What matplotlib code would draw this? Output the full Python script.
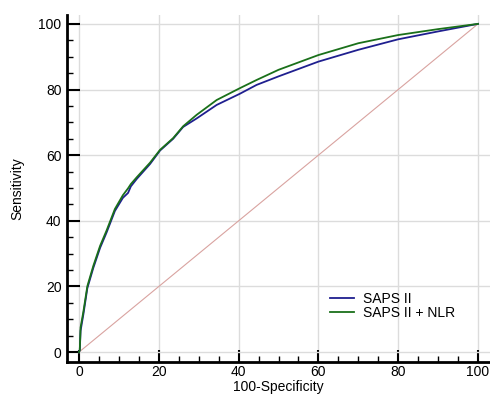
import matplotlib
matplotlib.use("Agg")
import matplotlib.pyplot as plt
from matplotlib.ticker import MultipleLocator

plt.rcParams['font.family'] = ['Liberation Sans', 'DejaVu Sans']

# 100-Specificity (x) and Sensitivity (y) for each ROC curve
saps_x = [0, 0.2, 0.4, 1.1, 2.1, 3.6, 5.3, 6.9, 9.0, 11.0, 12.3, 13.0, 14.5, 17.8,
          20.3, 23.6, 26.1, 29.5, 34.5, 40.3, 44.5, 50, 60, 70, 80, 90, 100]
saps_y = [0, 0.6, 6.5, 11.5, 19.5, 25.7, 31.8, 36.4, 43.0, 47.0, 48.5, 50.5, 52.8, 57.3,
          61.4, 65.0, 68.6, 71.2, 75.3, 78.7, 81.4, 84.0, 88.5, 92.1, 95.3, 97.7, 100]

nlr_x = [0, 0.2, 0.4, 1.1, 2.1, 3.6, 5.3, 6.9, 9.0, 11.0, 12.3, 13.0, 14.5, 17.8,
         20.3, 23.6, 26.1, 29.5, 34.5, 40.3, 44.5, 50, 60, 70, 80, 90, 100]
nlr_y = [0, 0.6, 7.5, 12.3, 20.1, 26.3, 32.4, 37.0, 43.6, 47.8, 49.9, 51.2, 53.3, 57.7,
         61.6, 65.2, 68.8, 72.3, 76.8, 80.4, 82.9, 86.0, 90.5, 94.1, 96.6, 98.4, 100]

ref_x = [0, 100]
ref_y = [0, 100]

x_ticks = [0, 20, 40, 60, 80, 100]
y_ticks = [0, 20, 40, 60, 80, 100]
labels = ["SAPS II", "SAPS II + NLR"]

fig = plt.figure(figsize=(4.9, 3.95), dpi=100)
ax = fig.add_axes([67/490, 33/395, (490-67)/490, (362-15)/395])

ax.plot(ref_x, ref_y, color="#d9a3a0", lw=0.8, zorder=2)
ax.plot(saps_x, saps_y, color="#1f1f8f", lw=1.3, label=labels[0], zorder=3)
ax.plot(nlr_x, nlr_y, color="#1a701a", lw=1.3, label=labels[1], zorder=4)

ax.set_xlim(-3, 103)
ax.set_ylim(-3, 102.7)
ax.set_xticks(x_ticks)
ax.set_yticks(y_ticks)
ax.xaxis.set_minor_locator(MultipleLocator(5))
ax.yaxis.set_minor_locator(MultipleLocator(5))
ax.grid(True, which='major', color="#dcdcdc", lw=1.0, zorder=0)
ax.set_axisbelow(True)

for s in ['top', 'right']:
    ax.spines[s].set_visible(False)
for s in ['left', 'bottom']:
    ax.spines[s].set_linewidth(2)
    ax.spines[s].set_color('black')

ax.tick_params(which='major', direction='in', length=9, width=1.5, labelsize=10, pad=2.5, colors='black')
ax.tick_params(axis='y', which='major', pad=4)
ax.tick_params(which='minor', direction='in', length=4.5, width=1.0)

ax.set_xlabel("100-Specificity", fontsize=10)
ax.xaxis.set_label_coords(0.5, -0.051)
ax.set_ylabel("Sensitivity", fontsize=10, labelpad=10)

ax.legend(loc='upper left', bbox_to_anchor=(330/490, 1 - 292/395), bbox_transform=fig.transFigure,
          frameon=False, fontsize=10, handlelength=1.75, handletextpad=0.65,
          labelspacing=0.0, borderpad=0, borderaxespad=0)

fig.savefig("out.png", dpi=100)
